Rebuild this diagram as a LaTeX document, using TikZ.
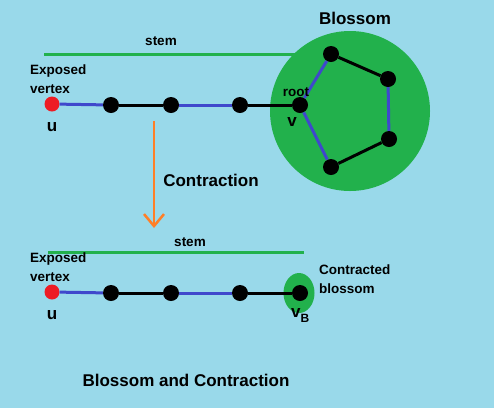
\documentclass[tikz,border=0pt]{standalone}
\usepackage{fontspec}
\setmainfont{Liberation Sans}
\usepackage{tikz}
\usetikzlibrary{arrows.meta,positioning,shapes.geometric}
\definecolor{paintbg}{HTML}{99D9EA}
\definecolor{paintgreen}{HTML}{22B14C}
\definecolor{paintblue}{HTML}{3F48CC}
\definecolor{paintred}{HTML}{ED1C24}
\definecolor{paintorange}{HTML}{FF7F27}
\tikzset{vertex/.style={circle,fill=black,inner sep=0pt,minimum size=16pt},
         exposed/.style={circle,fill=paintred,inner sep=0pt,minimum size=15pt},
         matched/.style={paintblue,line width=3pt},
         unmatched/.style={black,line width=3pt},
         stemline/.style={paintgreen,line width=3pt},
         small/.style={font=\bfseries\fontsize{13.5}{19}\selectfont,inner sep=0pt,align=left},
         big/.style={font=\bfseries\fontsize{17}{20}\selectfont,inner sep=0pt}}
\begin{document}
\begin{tikzpicture}[x=1pt,y=-1pt]
  \fill[paintbg] (0,0) rectangle (494,408);
  \useasboundingbox (0,0) rectangle (494,408);
  % before contraction
  \node (blossom) [circle,fill=paintgreen,minimum size=160pt] at (350,111) {};
  \node (blossomlabel) [big] at (355,18) {Blossom};
  \draw[stemline] (44,54) -- (296,54);
  \node (stemA) [small] at (161,41) {stem};
  \node (u) [exposed] at (52,104) {};
  \node (a1) [vertex] at (111,105) {};
  \node (a2) [vertex] at (171,105) {};
  \node (a3) [vertex] at (240,105) {};
  \node (v) [vertex] at (300,105) {};
  \node (b1) [vertex] at (331,54) {};
  \node (b2) [vertex] at (388,79) {};
  \node (b3) [vertex] at (389,139) {};
  \node (b4) [vertex] at (331,167) {};
  \draw[matched] (u) -- (a1);
  \draw[unmatched] (a1) -- (a2);
  \draw[matched] (a2) -- (a3);
  \draw[unmatched] (a3) -- (v);
  \draw[matched] (v) -- (b1);
  \draw[unmatched] (b1) -- (b2);
  \draw[matched] (b2) -- (b3);
  \draw[unmatched] (b3) -- (b4);
  \draw[matched] (b4) -- (v);
  \node (expA) [small,anchor=west] at (30,79.5) {Exposed\\vertex};
  \node (uA) [big,below=11pt of u] {u};
  \node (root) [small] at (296,92) {root};
  \node (vA) [big] at (292,122) {v};
  % contraction arrow
  \coordinate (arrtop) at (154,121);
  \coordinate (arrbot) at (154,228);
  \draw[paintorange,line width=2.5pt,-{Straight Barb[length=12pt,width=20pt,line width=2.5pt]}]
    (arrtop) -- (arrbot);
  \node (contr) [big] at (211,180) {Contraction};
  % after contraction
  \draw[stemline] (48,252) -- (304,252);
  \node (stemB) [small] at (190,242) {stem};
  \node (vB) [ellipse,fill=paintgreen,minimum width=31pt,minimum height=40pt] at (299,293) {};
  \node (uB) [exposed] at (52,292) {};
  \node (c1) [vertex] at (111,293) {};
  \node (c2) [vertex] at (171,293) {};
  \node (c3) [vertex] at (240,293) {};
  \node (vBin) [vertex] at (300,293) {};
  \draw[matched] (uB) -- (c1);
  \draw[unmatched] (c1) -- (c2);
  \draw[matched] (c2) -- (c3);
  \draw[unmatched] (c3) -- (vBin);
  \node (expB) [small,anchor=west] at (30,267.5) {Exposed\\vertex};
  \node (uBlabel) [big,below=11pt of uB] {u};
  \node (vBlabel) [big,anchor=west] at (291,315) {v\raisebox{-5pt}{\fontsize{12}{12}\selectfont B}};
  \node (contracted) [small,anchor=west] at (319,279.5) {Contracted\\blossom};
  \node (title) [big] at (186,380) {Blossom and Contraction};
\end{tikzpicture}
\end{document}
